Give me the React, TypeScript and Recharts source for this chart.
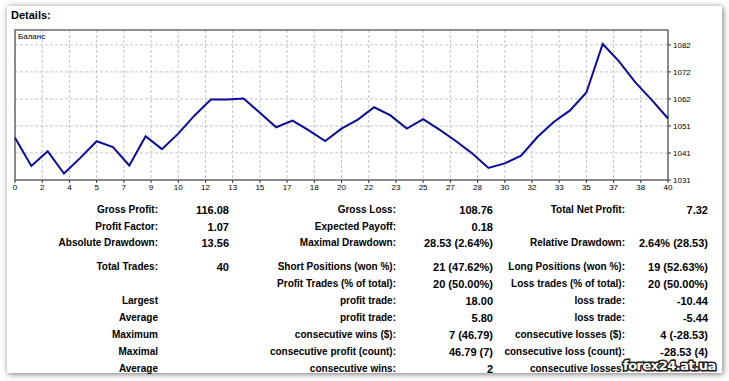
import {
  LineChart,
  Line,
  XAxis,
  YAxis,
  CartesianGrid,
  ReferenceArea,
} from "recharts";

// balance after each trade (0..40)
const trades = Array.from({ length: 41 }, (_, i) => i);
const balance = [
  1047.0, 1036.3, 1041.9, 1033.44, 1039.4, 1045.7, 1043.5, 1036.5, 1047.6, 1042.7,
  1048.6, 1055.5, 1061.5, 1061.5, 1061.9, 1056.5, 1051.0, 1053.5, 1049.8, 1045.8,
  1050.5, 1053.9, 1058.6, 1055.5, 1050.5, 1054.1, 1050.1, 1045.8, 1041.1, 1035.6,
  1037.3, 1040.2, 1047.3, 1053.0, 1057.4, 1064.2, 1082.6, 1076.0, 1068.0, 1061.4,
  1054.32,
];

const xTicks = Array.from({ length: 25 }, (_, i) => (i * 40) / 24);
const xTickLabels = [
  "0", "2", "4", "5", "7", "9", "10", "12", "13", "15", "17", "18", "20",
  "22", "23", "25", "27", "28", "30", "32", "33", "35", "37", "38", "40",
];
const yTicks = [1031, 1041.25, 1051.5, 1061.75, 1072, 1082.25];
const yTickLabels = ["1031", "1041", "1051", "1062", "1072", "1082"];
const yDomain = [1031, 1087.9];

// report table, three column pairs
const labels1 = ["Gross Profit:", "Profit Factor:", "Absolute Drawdown:", "Total Trades:", "", "Largest", "Average", "Maximum", "Maximal", "Average"];
const values1 = ["116.08", "1.07", "13.56", "40", "", "", "", "", "", ""];
const labels2 = ["Gross Loss:", "Expected Payoff:", "Maximal Drawdown:", "Short Positions (won %):", "Profit Trades (% of total):", "profit trade:", "profit trade:", "consecutive wins ($):", "consecutive profit (count):", "consecutive wins:"];
const values2 = ["108.76", "0.18", "28.53 (2.64%)", "21 (47.62%)", "20 (50.00%)", "18.00", "5.80", "7 (46.79)", "46.79 (7)", "2"];
const labels3 = ["Total Net Profit:", "", "Relative Drawdown:", "Long Positions (won %):", "Loss trades (% of total):", "loss trade:", "loss trade:", "consecutive losses ($):", "consecutive loss (count):", "consecutive losses:"];
// last value is hidden under the watermark in the source image
const values3 = ["7.32", "", "2.64% (28.53)", "19 (52.63%)", "20 (50.00%)", "-10.44", "-5.44", "4 (-28.53)", "-28.53 (4)", ""];

const rowY = [210, 227, 243, 267, 284, 301, 318, 335, 352, 369];
const colRight = [158, 229, 396, 493, 625, 708];

const data = trades.map((t) => ({ trade: t, balance: balance[t] }));

const tableFont = "'Liberation Sans', Arial, sans-serif";
const axisFont = "'Liberation Sans', Arial, sans-serif";

function Cell({ text, right, y, size }: { text: string; right: number; y: number; size: number }) {
  if (!text) return null;
  return (
    <div
      style={{
        position: "absolute",
        left: 0,
        width: right,
        top: y - 6,
        lineHeight: "12px",
        textAlign: "right",
        fontFamily: tableFont,
        fontWeight: 700,
        fontSize: size,
        color: "#000",
        whiteSpace: "nowrap",
      }}
    >
      {text}
    </div>
  );
}

export default function App() {
  const cols = [labels1, values1, labels2, values2, labels3, values3];
  return (
    <div
      style={{
        position: "absolute",
        left: 0,
        top: 0,
        width: 729,
        height: 381,
        background: "#fff",
        overflow: "hidden",
      }}
    >
      <div
        style={{
          position: "absolute",
          left: 7,
          top: 6,
          width: 715,
          height: 367,
          background: "#fff",
          boxShadow: "1px 1px 6px rgba(0,0,0,0.55)",
        }}
      />
      <div
        style={{
          position: "absolute",
          left: 11,
          top: 9,
          fontFamily: tableFont,
          fontWeight: 700,
          fontSize: 11,
          color: "#000",
        }}
      >
        Details:
      </div>

      <div style={{ position: "absolute", left: 0, top: 0 }}>
        <LineChart
          width={729}
          height={200}
          data={data}
          margin={{ top: 30, left: 15, right: 21, bottom: 0 }}
        >
          <CartesianGrid
            stroke="#c4c4c4"
            strokeDasharray="3 2"
            verticalValues={xTicks}
            horizontalValues={yTicks}
          />
          <XAxis
            dataKey="trade"
            type="number"
            domain={[0, 40]}
            ticks={xTicks}
            interval={0}
            height={20}
            axisLine={false}
            tickSize={3}
            tickMargin={1}
            tickLine={{ stroke: "#333" }}
            tick={{ fill: "#000", fontSize: 8, fontFamily: axisFont }}
            tickFormatter={(_v: number, i: number) => xTickLabels[i]}
          />
          <YAxis
            orientation="right"
            type="number"
            domain={yDomain}
            ticks={yTicks}
            interval={0}
            width={40}
            axisLine={false}
            tickSize={3}
            tickMargin={2}
            tickLine={{ stroke: "#333" }}
            tick={{ fill: "#000", fontSize: 8, fontFamily: axisFont }}
            tickFormatter={(_v: number, i: number) => yTickLabels[i]}
          />
          <ReferenceArea
            x1={0}
            x2={40}
            y1={yDomain[0]}
            y2={yDomain[1]}
            fill="none"
            stroke="#6a6a6a"
            strokeWidth={1.5}
          />
          <Line
            dataKey="balance"
            stroke="#0a0aa0"
            strokeWidth={2}
            dot={false}
            type="linear"
            isAnimationActive={false}
          />
        </LineChart>
      </div>
      <div
        style={{
          position: "absolute",
          left: 18,
          top: 32,
          fontFamily: axisFont,
          fontSize: 8,
          color: "#000",
        }}
      >
        Баланс
      </div>

      {cols.map((col, c) =>
        col.map((text, r) => (
          <Cell
            key={`${c}-${r}`}
            text={text}
            right={colRight[c]}
            y={rowY[r]}
            size={c % 2 === 0 ? 10 : 11}
          />
        ))
      )}

      <div
        style={{
          position: "absolute",
          left: 623,
          top: 358,
          fontFamily: "'DejaVu Sans', sans-serif",
          fontWeight: 700,
          fontSize: 13,
          lineHeight: "15px",
          color: "#fff",
          WebkitTextStroke: "3px #222",
          paintOrder: "stroke fill",
          letterSpacing: -0.5,
        }}
      >
        forex24.at.ua
      </div>
    </div>
  );
}
